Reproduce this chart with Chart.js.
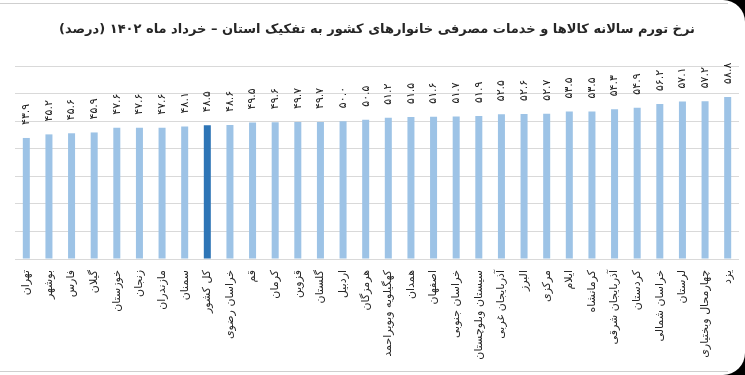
<!DOCTYPE html>
<html lang="fa">
<head>
<meta charset="utf-8">
<script src="https://cdn.jsdelivr.net/npm/chart.js@4.4.1/dist/chart.umd.min.js"></script>
<style>
  html, body { margin: 0; padding: 0; background: #000; }
  .frame {
    position: absolute; left: 0; top: 0; width: 745px; height: 375px;
    background: #fff; border-top-right-radius: 22px; border-bottom-right-radius: 22px;
    overflow: hidden;
  }
  .line { position: absolute; left: 0; width: 728px; height: 1px; background: #cfcfcf; }
  #chart { position: absolute; left: 0; top: 0; }
</style>
</head>
<body>
<div class="frame">
  <div class="line" style="top:3px"></div>
  <div class="line" style="top:371px"></div>
  <canvas id="chart" width="745" height="375" dir="rtl"></canvas>
</div>
<script>
// استان‌ها به ترتیب نمودار (چپ به راست)
const ostanha = [
  "تهران", "بوشهر", "فارس", "گیلان", "خوزستان", "زنجان", "مازندران", "سمنان",
  "کل کشور", "خراسان رضوی", "قم", "کرمان", "قزوین", "گلستان", "اردبیل", "هرمزگان",
  "کهگیلویه وبویراحمد", "همدان", "اصفهان", "خراسان جنوبی", "سیستان وبلوچستان",
  "آذربایجان غربی", "البرز", "مرکزی", "ایلام", "کرمانشاه", "آذربایجان شرقی",
  "کردستان", "خراسان شمالی", "لرستان", "چهارمحال وبختیاری", "یزد"
];

// نرخ تورم سالانه (درصد)
const tavarom = [
  43.9, 45.2, 45.6, 45.9, 47.6, 47.6, 47.6, 48.1,
  48.5, 48.6, 49.5, 49.6, 49.7, 49.7, 50.0, 50.5,
  51.2, 51.5, 51.6, 51.7, 51.9,
  52.5, 52.6, 52.7, 53.5, 53.5, 54.3,
  54.9, 56.2, 57.1, 57.2, 58.8
];

const kolKeshvar = "کل کشور";
const onvan = "نرخ تورم سالانه کالاها و خدمات مصرفی خانوارهای کشور به تفکیک استان – خرداد ماه ۱۴۰۲ (درصد)";

const rangeMamooli = "#9dc3e6";
const rangeKeshvar = "#2e75b6";

function adadFarsi(n) {
  const f = "۰۱۲۳۴۵۶۷۸۹";
  return n.toFixed(1).replace(/[0-9]/g, d => f[Number(d)]);
}

const barchasb = {
  id: "barchasb",
  afterDatasetsDraw(chart) {
    const ctx = chart.ctx;
    const meta = chart.getDatasetMeta(0);
    ctx.save();
    ctx.font = "11px 'DejaVu Sans'";
    ctx.fillStyle = "#222";
    ctx.textAlign = "left";
    ctx.textBaseline = "middle";
    meta.data.forEach((bar, i) => {
      ctx.save();
      ctx.translate(bar.x, bar.y - 13);
      ctx.rotate(-Math.PI / 2);
      ctx.fillText(adadFarsi(tavarom[i]), 0, 0);
      ctx.restore();
    });
    ctx.restore();
  }
};

new Chart(document.getElementById("chart"), {
  type: "bar",
  data: {
    labels: ostanha,
    datasets: [{
      data: tavarom,
      backgroundColor: ostanha.map(o => o === kolKeshvar ? rangeKeshvar : rangeMamooli),
      borderWidth: 0,
      barPercentage: 0.31,
      categoryPercentage: 1
    }]
  },
  options: {
    responsive: false,
    animation: false,
    layout: { padding: { left: 15, right: 6, top: 0, bottom: 0 } },
    plugins: {
      legend: { display: false },
      tooltip: { enabled: false },
      title: {
        display: true,
        text: onvan,
        color: "#262626",
        font: { family: "DejaVu Sans", size: 13, weight: "bold" },
        padding: { top: 22, bottom: 28.4 }
      }
    },
    scales: {
      x: {
        grid: { display: false },
        border: { display: false },
        ticks: {
          autoSkip: false,
          minRotation: 90,
          maxRotation: 90,
          padding: 3,
          color: "#262626",
          font: { family: "DejaVu Sans", size: 11 }
        },
        afterFit(scale) { scale.height = 116; }
      },
      y: {
        min: 0,
        max: 70,
        ticks: { display: false, stepSize: 10 },
        grid: { color: "#d9d9d9", drawTicks: false },
        border: { display: false }
      }
    }
  },
  plugins: [barchasb]
});
</script>
</body>
</html>
